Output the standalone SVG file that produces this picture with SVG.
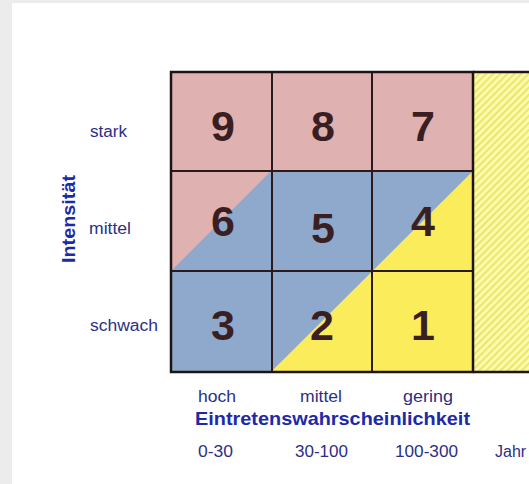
<svg xmlns="http://www.w3.org/2000/svg" width="529" height="484" viewBox="0 0 529 484">
<style>
.num{font-family:"Liberation Sans",Arial,sans-serif;font-weight:bold;font-size:43px;fill:#3a1f22;text-anchor:middle}
.lbl{font-family:"Liberation Sans",Arial,sans-serif;font-size:16px;fill:#2b2f85}
.ttl{font-family:"Liberation Sans",Arial,sans-serif;font-weight:bold;font-size:19px;fill:#1d2aa8}
.grid{stroke:#2a1a1c;stroke-width:2;fill:none}
</style>
<defs>
<pattern id="hatch" width="5" height="5" patternUnits="userSpaceOnUse" patternTransform="rotate(45)">
<rect width="5" height="5" fill="#fafaa8"/>
<rect width="1.8" height="5" fill="#e9e46a"/>
</pattern>
</defs>
<rect width="529" height="484" fill="#ececec"/>
<rect x="12" y="3" width="517" height="481" fill="#ffffff"/>
<g id="fields">
<rect x="171" y="72" width="302" height="300" fill="#dfb1b1"/>
<polygon points="171,271 271,171 473,171 473,173 271,372 171,372" fill="#8fa9cc"/>
<polygon points="271,372 473,171 473,372" fill="#fbec5c"/>
<rect x="473" y="72" width="60" height="300" fill="url(#hatch)"/>
</g>
<g id="grid">
<line class="grid" x1="272" y1="72" x2="272" y2="372"/>
<line class="grid" x1="372" y1="72" x2="372" y2="372"/>
<line class="grid" x1="171" y1="171" x2="473" y2="171"/>
<line class="grid" x1="171" y1="271" x2="473" y2="271"/>
<rect x="171" y="72" width="302" height="300" fill="none" stroke="#1e1416" stroke-width="2.5"/>
<line x1="473" y1="72" x2="529" y2="72" stroke="#1e1416" stroke-width="2.5"/>
<line x1="473" y1="372" x2="529" y2="372" stroke="#1e1416" stroke-width="2.5"/>
</g>
<g id="cell9"><text class="num" x="223" y="141">9</text></g>
<g id="cell8"><text class="num" x="323" y="141">8</text></g>
<g id="cell7"><text class="num" x="423" y="141">7</text></g>
<g id="cell6"><text class="num" x="223" y="236">6</text></g>
<g id="cell5"><text class="num" x="323" y="243">5</text></g>
<g id="cell4"><text class="num" x="423" y="236">4</text></g>
<g id="cell3"><text class="num" x="223" y="340">3</text></g>
<g id="cell2"><text class="num" x="322" y="340">2</text></g>
<g id="cell1"><text class="num" x="423" y="340">1</text></g>
<g id="yaxis">
<text class="ttl" transform="translate(75,263) rotate(-90)" textLength="88" lengthAdjust="spacingAndGlyphs">Intensität</text>
<text class="lbl" x="90" y="137" textLength="37" lengthAdjust="spacingAndGlyphs">stark</text>
<text class="lbl" x="89" y="234" textLength="42" lengthAdjust="spacingAndGlyphs">mittel</text>
<text class="lbl" x="90" y="331" textLength="68" lengthAdjust="spacingAndGlyphs">schwach</text>
</g>
<g id="xaxis">
<text class="lbl" x="198" y="402" textLength="38" lengthAdjust="spacingAndGlyphs">hoch</text>
<text class="lbl" x="300" y="402" textLength="42" lengthAdjust="spacingAndGlyphs">mittel</text>
<text class="lbl" x="403" y="402" textLength="50" lengthAdjust="spacingAndGlyphs">gering</text>
<text class="ttl" x="195" y="425" textLength="275" lengthAdjust="spacingAndGlyphs">Eintretenswahrscheinlichkeit</text>
<text class="lbl" x="198" y="457" textLength="35" lengthAdjust="spacingAndGlyphs">0-30</text>
<text class="lbl" x="295" y="457" textLength="53" lengthAdjust="spacingAndGlyphs">30-100</text>
<text class="lbl" x="395" y="457" textLength="63" lengthAdjust="spacingAndGlyphs">100-300</text>
<text class="lbl" x="495" y="457">Jahr</text>
</g>
</svg>
